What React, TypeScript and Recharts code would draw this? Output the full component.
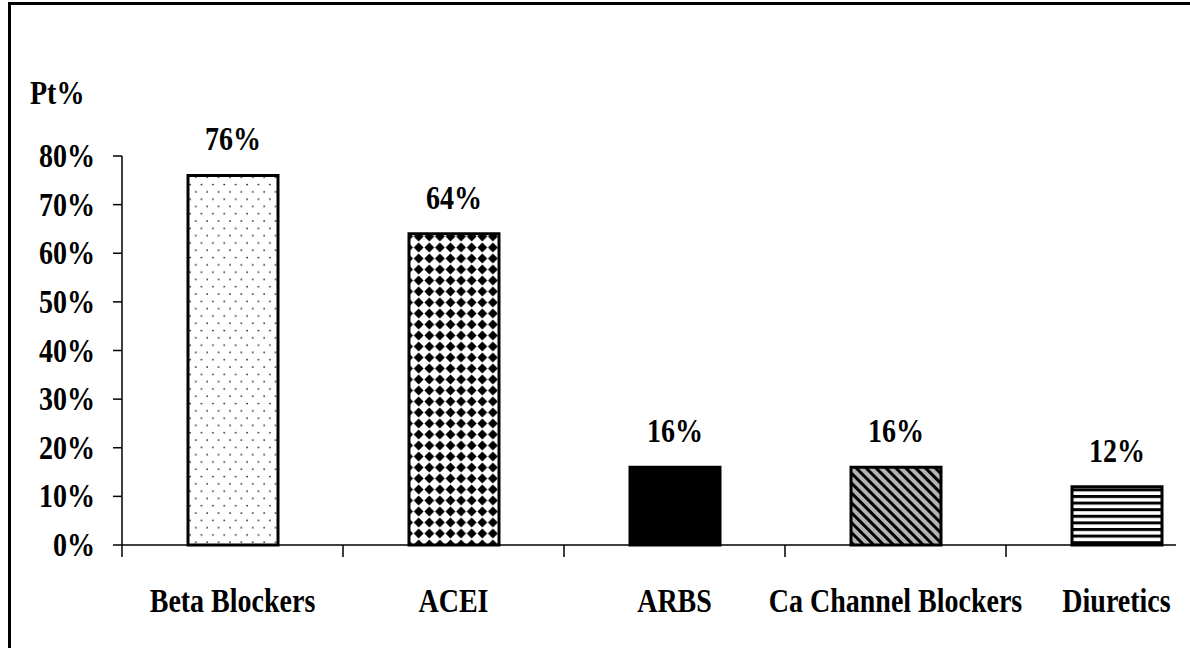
import { Bar, BarChart, Cell, LabelList, XAxis, YAxis } from "recharts";

const categories = ["Beta Blockers", "ACEI", "ARBS", "Ca Channel Blockers", "Diuretics"];
const patientShare = [76, 64, 16, 16, 12];
const fills = ["url(#dots)", "url(#diamonds)", "#000", "url(#hatch)", "url(#stripes)"];
const yTicks = [0, 10, 20, 30, 40, 50, 60, 70, 80];

const data = categories.map((name, i) => ({ name, value: patientShare[i] }));

const FONT = "'Liberation Serif', 'Times New Roman', serif";

// Times-style bold text, stretched a bit vertically like the old Excel export
function SerifText({ x, y, anchor = "middle", size = 28, children }: any) {
  return (
    <text
      x={0}
      y={0}
      transform={`translate(${x},${y}) scale(1,1.22)`}
      textAnchor={anchor}
      fontFamily={FONT}
      fontWeight="bold"
      fontSize={size}
      fill="#000"
    >
      {children}
    </text>
  );
}

function YTick({ x, y, payload }: any) {
  return (
    <SerifText x={x} y={y + 11} anchor="end">
      {`${payload.value}%`}
    </SerifText>
  );
}

function XTick({ x, y, payload }: any) {
  const half = payload.offset ?? 0;
  return (
    <g>
      <line x1={x - half} x2={x - half} y1={y} y2={y + 12} stroke="#000" strokeWidth={1.5} />
      <SerifText x={x} y={y + 67}>
        {payload.value}
      </SerifText>
    </g>
  );
}

function ValueLabel({ x, y, width, value }: any) {
  return (
    <SerifText x={x + width / 2} y={y - 25}>
      {`${value}%`}
    </SerifText>
  );
}

export default function App() {
  return (
    <div
      style={{
        position: "fixed",
        left: 0,
        top: 0,
        width: 1190,
        height: 648,
        overflow: "hidden",
        background: "#fff",
      }}
    >
      <div
        style={{
          position: "absolute",
          left: 8,
          top: 2,
          width: 1300,
          height: 800,
          border: "3px solid #000",
        }}
      />
      <div style={{ position: "absolute", left: 0, top: 0 }}>
        <BarChart
          width={1190}
          height={648}
          data={data}
          margin={{ top: 156, right: 14, bottom: 0, left: 0 }}
          barSize={90}
        >
          <defs>
            <pattern id="dots" patternUnits="userSpaceOnUse" width={11.4} height={14.6}>
              <rect width={11.4} height={14.6} fill="#fff" />
              <circle cx={2} cy={2} r={0.9} fill="#222" />
              <circle cx={7.7} cy={9.3} r={0.9} fill="#222" />
            </pattern>
            <pattern id="diamonds" patternUnits="userSpaceOnUse" width={10.6} height={11}>
              <rect width={10.6} height={11} fill="#fff" />
              <polygon points="5.3,0.4 10.2,5.5 5.3,10.6 0.4,5.5" fill="#000" />
            </pattern>
            <pattern
              id="hatch"
              patternUnits="userSpaceOnUse"
              width={7}
              height={7}
              patternTransform="rotate(-45)"
            >
              <rect width={7} height={7} fill="#b4b4b4" />
              <rect width={3} height={7} fill="#000" />
            </pattern>
            <pattern id="stripes" patternUnits="userSpaceOnUse" width={10} height={6.6}>
              <rect width={10} height={6.6} fill="#fff" />
              <rect width={10} height={3} fill="#000" />
            </pattern>
          </defs>
          <SerifText x={30} y={104} anchor="start">
            Pt%
          </SerifText>
          <XAxis
            dataKey="name"
            height={103}
            padding={{ left: 0, right: -51 }}
            axisLine={{ stroke: "#000", strokeWidth: 1.5 }}
            tickLine={false}
            tickSize={0}
            tickMargin={0}
            tick={<XTick />}
            interval={0}
          />
          <YAxis
            width={122}
            domain={[0, 80]}
            ticks={yTicks}
            interval={0}
            axisLine={{ stroke: "#000", strokeWidth: 1.5 }}
            tickLine={{ stroke: "#000", strokeWidth: 1.5 }}
            tickSize={9}
            tickMargin={18}
            tick={<YTick />}
          />
          <Bar dataKey="value" stroke="#000" strokeWidth={3} isAnimationActive={false}>
            {data.map((d, i) => (
              <Cell key={d.name} fill={fills[i]} />
            ))}
            <LabelList dataKey="value" content={<ValueLabel />} />
          </Bar>
        </BarChart>
      </div>
    </div>
  );
}
